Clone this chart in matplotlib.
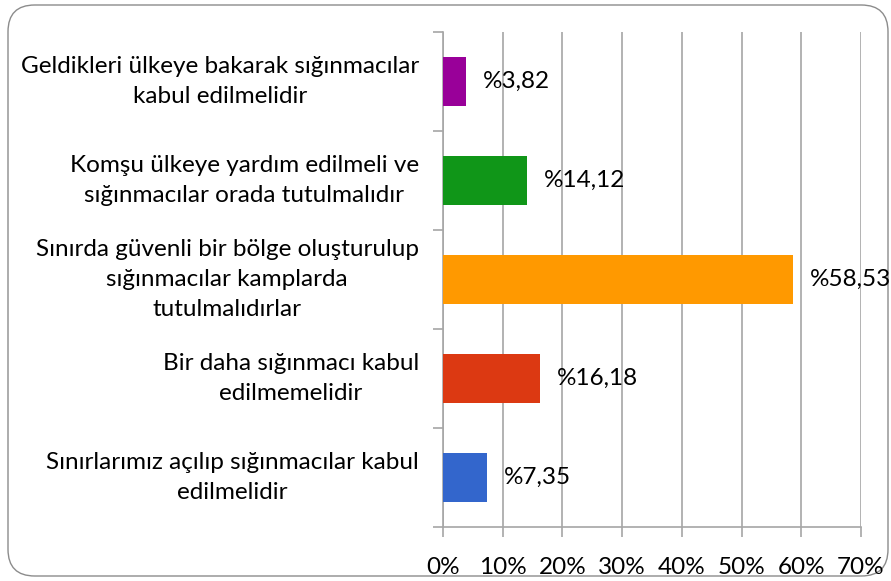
import matplotlib
matplotlib.use("Agg")
import matplotlib.pyplot as plt
from matplotlib.patches import FancyBboxPatch
from matplotlib.ticker import FuncFormatter

categories = [
    "Sınırlarımız açılıp sığınmacılar kabul\nedilmelidir",
    "Bir daha sığınmacı kabul\nedilmemelidir",
    "Sınırda güvenli bir bölge oluşturulup\nsığınmacılar kamplarda\ntutulmalıdırlar",
    "Komşu ülkeye yardım edilmeli ve\nsığınmacılar orada tutulmalıdır",
    "Geldikleri ülkeye bakarak sığınmacılar\nkabul edilmelidir",
]
values = [7.35, 16.18, 58.53, 14.12, 3.82]
value_labels = ["%7,35", "%16,18", "%58,53", "%14,12", "%3,82"]
colors = ["#3366CC", "#DC3912", "#FF9900", "#109618", "#990099"]
xticks = [0, 10, 20, 30, 40, 50, 60, 70]

plt.rcParams['font.family'] = ['Lato', 'DejaVu Sans']
FS = 17.5

W, H = 891, 581
fig = plt.figure(figsize=(W / 100, H / 100), dpi=100)

border = FancyBboxPatch((8 / W, 5 / H), 880 / W, 571 / H,
                        boxstyle="round,pad=0,rounding_size=0.03",
                        transform=fig.transFigure, facecolor="white",
                        edgecolor="#8c8c8c", linewidth=1.0, zorder=-10,
                        mutation_aspect=W / H)
fig.patches.append(border)

left, right = 443 / W, 861 / W
top, bottom = 1 - 32 / H, 1 - 527 / H
ax = fig.add_axes([left, bottom, right - left, top - bottom])
ax.set_facecolor("none")
ax.set_zorder(5)

y = list(range(len(categories)))
ax.barh(y, values, height=0.5, color=colors, zorder=3)
for yi, v, lab in zip(y, values, value_labels):
    ax.annotate(lab, (v, yi), xytext=(17, 0), textcoords="offset pixels",
                va="center", ha="left", fontsize=FS, color="black", zorder=4)

ax.set_xlim(0, 70)
ax.set_ylim(-0.5, 4.5)
ax.set_xticks(xticks)
ax.xaxis.set_major_formatter(FuncFormatter(lambda v, p: f"{int(v)}%"))
ax.grid(axis="x", color="#a6a6a6", linewidth=1.2, zorder=0)
ax.set_yticks([i - 0.5 for i in range(len(categories) + 1)])
ax.set_yticklabels([])
ax.tick_params(axis="y", length=7, color="#a6a6a6", width=1.2, direction="out")
ax.tick_params(axis="x", length=7, color="#a6a6a6", width=1.2, direction="out",
               labelsize=FS, pad=14.5)
for s in ["top", "right"]:
    ax.spines[s].set_visible(False)
for s in ["left", "bottom"]:
    ax.spines[s].set_color("#a6a6a6")
    ax.spines[s].set_linewidth(1.2)

for yi, cat in zip(y, categories):
    ax.text(-0.058, yi, cat, transform=ax.get_yaxis_transform(), ha="right", va="center",
            multialignment="center", fontsize=FS, linespacing=1.5, color="black")

fig.savefig("out.png", dpi=100)
